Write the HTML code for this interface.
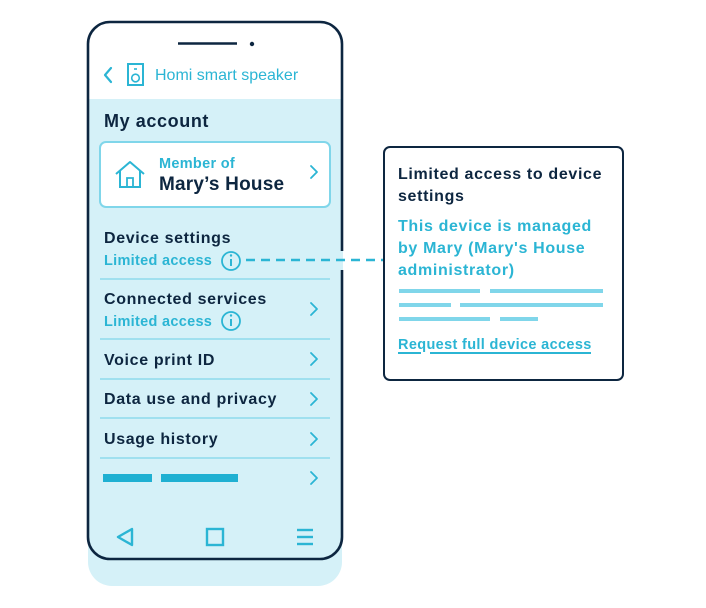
<!DOCTYPE html>
<html><head><meta charset="utf-8"><style>
html,body{margin:0;padding:0;background:#fff;}
svg{display:block;}
text{font-family:"Liberation Sans",sans-serif;}
.b16{font-size:16px;font-weight:bold;letter-spacing:0.65px;}
.la{font-size:14.5px;font-weight:bold;letter-spacing:0.3px;fill:#2bb5d4;}
</style></head><body>
<svg width="706" height="608" viewBox="0 0 706 608" xmlns="http://www.w3.org/2000/svg">
<rect x="88" y="60" width="254" height="526" rx="24" fill="#d5f1f8"/>
<clipPath id="pc"><rect x="88" y="22" width="254" height="537" rx="22"/></clipPath>
<g clip-path="url(#pc)">
<rect x="88" y="22" width="254" height="537" fill="#d5f1f8"/>
<rect x="88" y="22" width="254" height="77" fill="#fff"/>
</g>
<rect x="88" y="22" width="254" height="537" rx="22" fill="none" stroke="#0d2640" stroke-width="2.6"/>
<rect x="339" y="251" width="6" height="19" fill="#d5f1f8"/>
<rect x="343" y="251" width="3" height="19" fill="#fff"/>
<line x1="178" y1="43.5" x2="237" y2="43.5" stroke="#0d2640" stroke-width="2.5"/>
<circle cx="252" cy="44" r="2.2" fill="#0d2640"/>
<polyline points="111,68 105,75 111,82" fill="none" stroke="#2bb5d4" stroke-width="2.2" stroke-linecap="round" stroke-linejoin="round"/>
<rect x="128" y="64" width="15" height="21" fill="none" stroke="#2bb5d4" stroke-width="2"/>
<circle cx="135.5" cy="78" r="3.8" fill="none" stroke="#2bb5d4" stroke-width="1.6"/>
<line x1="134" y1="69" x2="137" y2="69" stroke="#2bb5d4" stroke-width="1.6"/>
<text x="155" y="80" font-size="16" fill="#2bb5d4">Homi smart speaker</text>
<text x="104" y="127" font-size="18" font-weight="bold" letter-spacing="0.6" fill="#0d2640">My account</text>
<rect x="100" y="142" width="230" height="65" rx="6" fill="#fff" stroke="#80d6ea" stroke-width="2"/>
<polyline points="116,174 130,162 144,174" fill="none" stroke="#2bb5d4" stroke-width="2" stroke-linejoin="round"/>
<polyline points="120,171 120,187 140,187 140,171" fill="none" stroke="#2bb5d4" stroke-width="2"/>
<polyline points="127,186 127,178 133,178 133,186" fill="none" stroke="#2bb5d4" stroke-width="1.8"/>
<text x="159" y="168" font-size="14.5" font-weight="bold" letter-spacing="0.3" fill="#2bb5d4">Member of</text>
<text x="159" y="190" font-size="19" font-weight="bold" letter-spacing="0.2" fill="#0d2640">Mary’s House</text>
<g fill="none" stroke="#2bb5d4" stroke-width="1.8" stroke-linecap="round" stroke-linejoin="round">
<polyline points="311,166 317,172 311,178"/>
<polyline points="311,303 317,309 311,315"/>
<polyline points="311,353 317,359 311,365"/>
<polyline points="311,393 317,399 311,405"/>
<polyline points="311,433 317,439 311,445"/>
<polyline points="311,472 317,478 311,484"/>
</g>
<text x="104" y="243" class="b16" fill="#0d2640">Device settings</text>
<text x="104" y="265" class="la">Limited access</text>
<g fill="none" stroke="#2bb5d4" stroke-width="1.8">
<circle cx="231" cy="261" r="9"/><circle cx="231" cy="321" r="9"/>
</g>
<g stroke="#2bb5d4" stroke-width="2"><line x1="231" y1="259" x2="231" y2="266"/><line x1="231" y1="319" x2="231" y2="326"/></g>
<circle cx="231" cy="255.5" r="1.2" fill="#2bb5d4"/><circle cx="231" cy="315.5" r="1.2" fill="#2bb5d4"/>
<g stroke="#9fe0ef" stroke-width="2">
<line x1="100" y1="279" x2="330" y2="279"/>
<line x1="100" y1="339" x2="330" y2="339"/>
<line x1="100" y1="379" x2="330" y2="379"/>
<line x1="100" y1="418" x2="330" y2="418"/>
<line x1="100" y1="458" x2="330" y2="458"/>
</g>
<text x="104" y="304" class="b16" fill="#0d2640">Connected services</text>
<text x="104" y="326" class="la">Limited access</text>
<text x="104" y="365" class="b16" fill="#0d2640">Voice print ID</text>
<text x="104" y="404" class="b16" fill="#0d2640">Data use and privacy</text>
<text x="104" y="444" class="b16" fill="#0d2640">Usage history</text>
<rect x="103" y="474" width="49" height="8" fill="#1fb0d2"/>
<rect x="161" y="474" width="77" height="8" fill="#1fb0d2"/>
<polygon points="132,529 118,537 132,545" fill="none" stroke="#2bb5d4" stroke-width="2.4" stroke-linejoin="round"/>
<rect x="207" y="529" width="16" height="16" fill="none" stroke="#2bb5d4" stroke-width="2.4"/>
<g stroke="#2bb5d4" stroke-width="2.4"><line x1="297" y1="530" x2="313" y2="530"/><line x1="297" y1="537" x2="313" y2="537"/><line x1="297" y1="544" x2="313" y2="544"/></g>
<line x1="246" y1="260" x2="383" y2="260" stroke="#2bb5d4" stroke-width="2.5" stroke-dasharray="9,6"/>
<rect x="384" y="147" width="239" height="233" rx="6" fill="#fff" stroke="#0d2640" stroke-width="2"/>
<text x="398" y="179" class="b16" letter-spacing="0.55" fill="#0d2640">Limited access to device</text>
<text x="398" y="201" class="b16" fill="#0d2640">settings</text>
<text x="398" y="231" class="b16" letter-spacing="0.5" fill="#2bb5d4">This device is managed</text>
<text x="398" y="253" class="b16" letter-spacing="0.5" fill="#2bb5d4">by Mary (Mary's House</text>
<text x="398" y="275" class="b16" letter-spacing="0.5" fill="#2bb5d4">administrator)</text>
<g stroke="#80d6ea" stroke-width="4">
<line x1="399" y1="291" x2="480" y2="291"/><line x1="490" y1="291" x2="603" y2="291"/>
<line x1="399" y1="305" x2="451" y2="305"/><line x1="460" y1="305" x2="603" y2="305"/>
<line x1="399" y1="319" x2="490" y2="319"/><line x1="500" y1="319" x2="538" y2="319"/>
</g>
<text x="398" y="349" font-size="14.5" font-weight="bold" letter-spacing="0.35" fill="#2bb5d4">Request full device access</text>
<g stroke="#2bb5d4" stroke-width="2"><line x1="398" y1="353" x2="421" y2="353"/><line x1="430" y1="353" x2="591" y2="353"/></g>
</svg>
</body></html>
